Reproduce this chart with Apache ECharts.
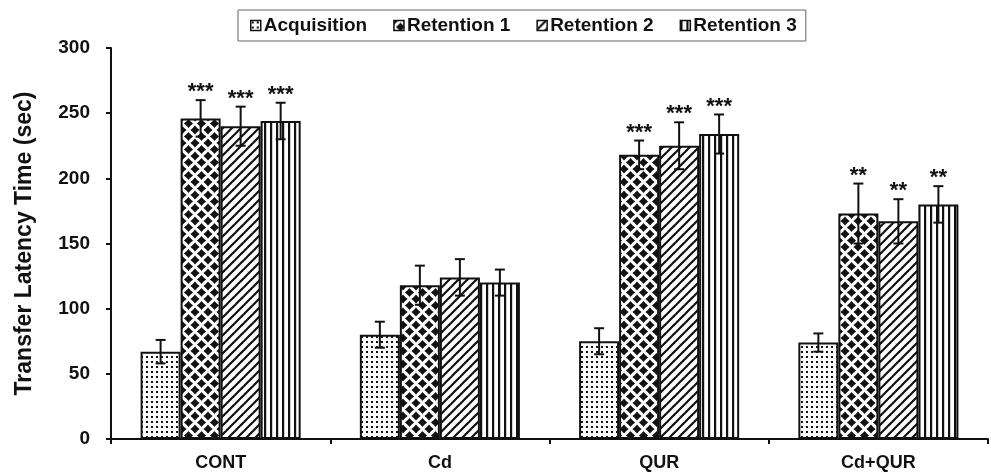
<!DOCTYPE html>
<html>
<head>
<meta charset="utf-8">
<script src="https://cdn.jsdelivr.net/npm/echarts@6/dist/echarts.min.js"></script>
<style>
  html, body { margin: 0; padding: 0; background: #fff; }
  #chart { width: 991px; height: 474px; }
</style>
</head>
<body>
<div id="chart"></div>
<script>
// Groups and series
const categories = ['CONT', 'Cd', 'QUR', 'Cd+QUR'];
const seriesNames = ['Acquisition', 'Retention 1', 'Retention 2', 'Retention 3'];

// Mean transfer latency (sec) per group
const acquisition = [67, 80, 75, 74];
const retention1 = [246, 118, 218, 173];
const retention2 = [240, 124, 225, 167];
const retention3 = [244, 120, 234, 180];

// Error (± SEM) per group
const acquisitionErr = [9, 10, 10, 7];
const retention1Err = [14, 15, 11, 23];
const retention2Err = [15, 14, 18, 17];
const retention3Err = [14, 10, 15, 14];

// Significance markers per group
const acquisitionSig = ['', '', '', ''];
const retention1Sig = ['***', '', '***', '**'];
const retention2Sig = ['***', '', '***', '**'];
const retention3Sig = ['***', '', '***', '**'];

// Y axis ticks
const yTicks = [0, 50, 100, 150, 200, 250, 300];

const values = [acquisition, retention1, retention2, retention3];
const errors = [acquisitionErr, retention1Err, retention2Err, retention3Err];
const sigs = [acquisitionSig, retention1Sig, retention2Sig, retention3Sig];

const FONT = '"Liberation Sans", Arial, Helvetica, sans-serif';
const CAT_GAP = 0.27;

// ---- hatch fills -------------------------------------------------------
function makeTile(w, h, draw) {
  const c = document.createElement('canvas');
  c.width = w; c.height = h;
  const ctx = c.getContext('2d');
  ctx.fillStyle = '#fff';
  ctx.fillRect(0, 0, w, h);
  ctx.fillStyle = '#111';
  ctx.strokeStyle = '#111';
  draw(ctx, w, h);
  return { image: c, repeat: 'repeat' };
}

const dotFill = makeTile(5, 5, (ctx) => {
  ctx.fillRect(1, 1, 2, 2);
});

// black diamonds on a staggered grid
const diamondFill = makeTile(13, 13, (ctx) => {
  const h = 4.6;
  const k = 0.42;
  [[0, 0], [13, 0], [0, 13], [13, 13], [6.5, 6.5]].forEach(([x, y]) => {
    ctx.beginPath();
    ctx.moveTo(x, y - h);
    ctx.quadraticCurveTo(x + h * k, y - h * k, x + h, y);
    ctx.quadraticCurveTo(x + h * k, y + h * k, x, y + h);
    ctx.quadraticCurveTo(x - h * k, y + h * k, x - h, y);
    ctx.quadraticCurveTo(x - h * k, y - h * k, x, y - h);
    ctx.closePath();
    ctx.fill();
  });
});

const diagFill = makeTile(9, 9, (ctx, w, h) => {
  ctx.lineWidth = 2.2;
  [-9, 0, 9].forEach((dx) => {
    ctx.beginPath();
    ctx.moveTo(dx - 1, h + 1);
    ctx.lineTo(dx + w + 1, -1);
    ctx.stroke();
  });
});

const vertFill = makeTile(6, 6, (ctx, w, h) => {
  ctx.fillRect(0, 0, 2.2, h);
});

const fills = [dotFill, diamondFill, diagFill, vertFill];

// ---- error bars with significance marks --------------------------------
const errItems = [];
values.forEach((arr, si) => {
  arr.forEach((v, ci) => {
    errItems.push([ci, v, errors[si][ci], si]);
  });
});

function renderErr(params, api) {
  const ci = api.value(0);
  const v = api.value(1);
  const e = api.value(2);
  const si = api.value(3);
  const band = api.size([1, 0])[0];
  const barW = band * (1 - CAT_GAP) / 4;
  const cx = api.coord([ci, 0])[0] + (si - 1.5) * barW;
  const yTop = api.coord([ci, v + e])[1];
  const yBot = api.coord([ci, v - e])[1];
  const cap = 5;
  const style = { stroke: '#111', lineWidth: 2 };
  const children = [
    { type: 'line', shape: { x1: cx, y1: yTop, x2: cx, y2: yBot }, style },
    { type: 'line', shape: { x1: cx - cap, y1: yTop, x2: cx + cap, y2: yTop }, style },
    { type: 'line', shape: { x1: cx - cap, y1: yBot, x2: cx + cap, y2: yBot }, style }
  ];
  const mark = sigs[si][ci];
  if (mark) {
    children.push({
      type: 'text',
      style: {
        text: mark,
        x: cx,
        y: yTop + 3,
        align: 'center',
        verticalAlign: 'bottom',
        fill: '#111',
        font: 'bold 22px ' + FONT
      }
    });
  }
  return { type: 'group', children };
}

// ---- chart -------------------------------------------------------------
const chart = echarts.init(document.getElementById('chart'), null, { renderer: 'canvas' });

const barSeries = seriesNames.map((name, si) => ({
  name,
  type: 'bar',
  data: values[si],
  barGap: '0%',
  barCategoryGap: (CAT_GAP * 100) + '%',
  itemStyle: { color: fills[si], borderColor: '#111', borderWidth: 2 },
  emphasis: { disabled: true },
  animation: false
}));

chart.setOption({
  animation: false,
  backgroundColor: '#fff',
  textStyle: { fontFamily: FONT },
  legend: {
    data: seriesNames,
    top: 10,
    left: 238,
    padding: [6, 9, 6, 12],
    borderColor: '#666',
    borderWidth: 1,
    itemWidth: 10,
    itemHeight: 10,
    itemGap: 26,
    icon: 'rect',
    itemStyle: { borderColor: '#111', borderWidth: 1.5 },
    textStyle: { fontFamily: FONT, fontWeight: 'bold', fontSize: 19, color: '#111', padding: [0, 0, 0, -2] },
    selectedMode: false
  },
  grid: { left: 111, right: 3, top: 48, bottom: 35, containLabel: false },
  xAxis: {
    type: 'category',
    data: categories,
    axisLine: { lineStyle: { color: '#111', width: 2 } },
    axisTick: { show: true, length: 5, lineStyle: { color: '#111', width: 2 } },
    axisLabel: { color: '#111', fontFamily: FONT, fontWeight: 'bold', fontSize: 18, margin: 15 },
    splitLine: { show: false }
  },
  yAxis: {
    type: 'value',
    min: yTicks[0],
    max: yTicks[yTicks.length - 1],
    interval: yTicks[1] - yTicks[0],
    name: 'Transfer Latency Time (sec)',
    nameLocation: 'middle',
    nameGap: 75,
    nameTextStyle: { color: '#111', fontFamily: FONT, fontWeight: 'bold', fontSize: 23 },
    axisLine: { show: true, lineStyle: { color: '#111', width: 2 } },
    axisTick: { show: true, length: 5, lineStyle: { color: '#111', width: 2 } },
    axisLabel: { color: '#111', fontFamily: FONT, fontWeight: 'bold', fontSize: 19, margin: 21 },
    splitLine: { show: false }
  },
  series: barSeries.concat([{
    type: 'custom',
    name: 'error',
    renderItem: renderErr,
    data: errItems,
    z: 10,
    silent: true,
    animation: false
  }])
});
</script>
</body>
</html>
